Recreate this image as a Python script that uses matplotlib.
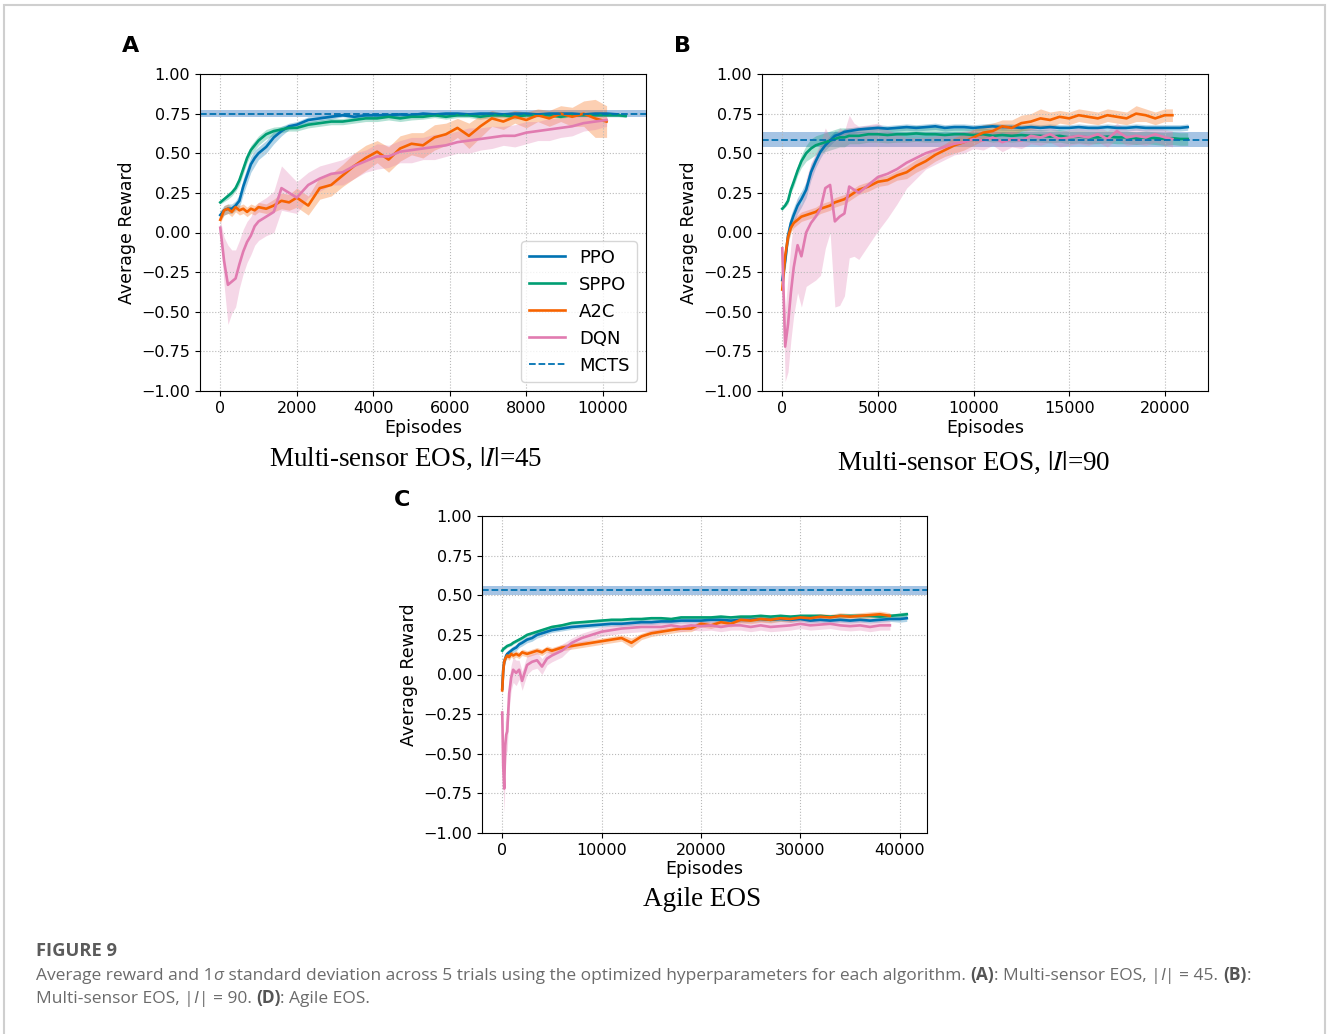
import matplotlib.pyplot as plt
from matplotlib.patches import Rectangle
import numpy as np

plt.rcParams['font.family'] = ['DejaVu Sans']
plt.rcParams['mathtext.fontset'] = 'stix'

W, H = 1327, 1034

# colours
c_ppo = '#0072b2'
c_sppo = '#009e73'
c_a2c = '#f76300'
c_dqn = '#e17bb0'

names = ['PPO', 'SPPO', 'A2C', 'DQN']
colors = [c_ppo, c_sppo, c_a2c, c_dqn]

# ---------------- panel A: Multi-sensor EOS, |I|=45 ----------------
ep_a = [0, 100, 200, 300, 400, 500, 600, 700, 800, 900, 1000,
        1200, 1400, 1600, 1800, 2000,
        2300, 2600, 2900, 3200, 3500, 3800, 4100, 4400, 4700, 5000,
        5300, 5600, 5900, 6200, 6500, 6800, 7100, 7400, 7700, 8000,
        8300, 8600, 8900, 9200, 9500, 9800, 10100, 10400, 10600]

ppo_a = [0.11, 0.14, 0.15, 0.15, 0.17, 0.20, 0.29, 0.36, 0.43, 0.47, 0.50,
         0.54, 0.60, 0.64, 0.67, 0.68,
         0.71, 0.72, 0.73, 0.74, 0.73, 0.74, 0.74, 0.74, 0.745, 0.74,
         0.75, 0.745, 0.75, 0.75, 0.745, 0.75, 0.75, 0.745, 0.75, 0.75,
         0.745, 0.75, 0.75, 0.75, 0.745, 0.75, 0.75, 0.745]
ppo_a_sd = [0.03, 0.03, 0.03, 0.03, 0.03, 0.04, 0.05, 0.05, 0.05, 0.05, 0.04,
            0.04, 0.04, 0.03, 0.02, 0.02,
            0.02, 0.015, 0.015, 0.01, 0.01, 0.01, 0.01, 0.01, 0.01, 0.01,
            0.01, 0.01, 0.01, 0.01, 0.01, 0.01, 0.01, 0.01, 0.01, 0.01,
            0.01, 0.01, 0.01, 0.01, 0.01, 0.01, 0.01, 0.01]

sppo_a = [0.19, 0.21, 0.23, 0.25, 0.28, 0.33, 0.40, 0.47, 0.52, 0.55, 0.58,
          0.62, 0.64, 0.65, 0.66, 0.66,
          0.68, 0.69, 0.70, 0.70, 0.71, 0.72, 0.72, 0.73, 0.72, 0.73,
          0.73, 0.74, 0.73, 0.74, 0.74, 0.73, 0.74, 0.74, 0.73, 0.74,
          0.74, 0.74, 0.73, 0.74, 0.74, 0.74, 0.74, 0.74, 0.735]
sppo_a_sd = [0.01, 0.015, 0.02, 0.02, 0.02, 0.03, 0.03, 0.03, 0.03, 0.03, 0.03,
             0.03, 0.025, 0.02, 0.02, 0.02,
             0.02, 0.02, 0.02, 0.02, 0.02, 0.02, 0.02, 0.02, 0.02, 0.02,
             0.015, 0.015, 0.015, 0.015, 0.015, 0.015, 0.015, 0.015, 0.015, 0.015,
             0.01, 0.01, 0.01, 0.01, 0.01, 0.01, 0.01, 0.01, 0.01]

a2c_a = [0.08, 0.14, 0.15, 0.13, 0.16, 0.14, 0.15, 0.13, 0.15, 0.14, 0.16,
         0.15, 0.17, 0.20, 0.19, 0.22,
         0.17, 0.28, 0.30, 0.36, 0.42, 0.47, 0.51, 0.46, 0.53, 0.56,
         0.55, 0.60, 0.62, 0.66, 0.61, 0.67, 0.72, 0.70, 0.73, 0.71,
         0.74, 0.72, 0.75, 0.73, 0.75, 0.72, 0.70]
a2c_a_sd = [0.02, 0.03, 0.03, 0.03, 0.03, 0.03, 0.03, 0.03, 0.03, 0.03, 0.03,
            0.03, 0.04, 0.05, 0.05, 0.06,
            0.06, 0.07, 0.07, 0.07, 0.08, 0.08, 0.07, 0.08, 0.08, 0.07,
            0.08, 0.08, 0.07, 0.06, 0.08, 0.07, 0.05, 0.05, 0.04, 0.05,
            0.04, 0.05, 0.05, 0.06, 0.08, 0.12, 0.10]

dqn_a = [0.03, -0.18, -0.33, -0.31, -0.29, -0.20, -0.12, -0.06, -0.02, 0.04, 0.07,
         0.10, 0.13, 0.28, 0.25, 0.22,
         0.30, 0.34, 0.37, 0.38, 0.42, 0.45, 0.48, 0.48, 0.51, 0.52,
         0.53, 0.54, 0.55, 0.57, 0.58, 0.59, 0.60, 0.61, 0.61, 0.63,
         0.64, 0.65, 0.66, 0.67, 0.69, 0.70, 0.71]
dqn_a_sd = [0.05, 0.15, 0.25, 0.20, 0.18, 0.15, 0.14, 0.13, 0.12, 0.12, 0.12,
            0.12, 0.13, 0.14, 0.12, 0.10,
            0.08, 0.08, 0.07, 0.08, 0.08, 0.07, 0.08, 0.07, 0.07, 0.08,
            0.07, 0.08, 0.07, 0.07, 0.08, 0.07, 0.07, 0.06, 0.07, 0.07,
            0.06, 0.07, 0.06, 0.06, 0.05, 0.05, 0.04]

mcts_a = 0.75
mcts_a_sd = 0.023

# ---------------- panel B: Multi-sensor EOS, |I|=90 ----------------
ep_b = [0, 150, 300, 450, 600, 800, 1000, 1250, 1500, 1750, 2000,
        2250, 2500, 2750, 3000, 3250, 3500, 3750, 4000,
        4500, 5000, 5500, 6000, 6500, 7000, 7500, 8000, 8500, 9000,
        9500, 10000, 10500, 11000, 11500, 12000, 12500, 13000, 13500, 14000,
        14500, 15000, 15500, 16000, 16500, 17000, 17500, 18000, 18500, 19000,
        19500, 20000, 20400, 20800, 21200]

ppo_b = [-0.30, -0.18, -0.02, 0.06, 0.11, 0.17, 0.21, 0.27, 0.38, 0.45, 0.51,
         0.55, 0.58, 0.61, 0.62, 0.635, 0.64, 0.645, 0.65,
         0.655, 0.66, 0.655, 0.66, 0.665, 0.66, 0.665, 0.67, 0.66, 0.665,
         0.665, 0.66, 0.665, 0.67, 0.665, 0.665, 0.66, 0.665, 0.66, 0.665,
         0.66, 0.66, 0.665, 0.66, 0.66, 0.665, 0.66, 0.66, 0.665, 0.66,
         0.66, 0.66, 0.66, 0.66, 0.665]
ppo_b_sd = [0.06, 0.06, 0.05, 0.05, 0.05, 0.05, 0.05, 0.05, 0.05, 0.04, 0.04,
            0.03, 0.03, 0.03, 0.02, 0.02, 0.02, 0.02, 0.02,
            0.02, 0.02, 0.02, 0.02, 0.02, 0.02, 0.02, 0.02, 0.02, 0.02,
            0.02, 0.02, 0.02, 0.02, 0.02, 0.02, 0.02, 0.02, 0.02, 0.02,
            0.02, 0.02, 0.02, 0.02, 0.02, 0.02, 0.02, 0.02, 0.02, 0.02,
            0.02, 0.02, 0.02, 0.02, 0.02]

sppo_b = [0.15, 0.17, 0.20, 0.27, 0.32, 0.39, 0.45, 0.50, 0.53, 0.55, 0.56,
          0.57, 0.58, 0.59, 0.60, 0.60, 0.61, 0.61, 0.61,
          0.62, 0.62, 0.615, 0.62, 0.62, 0.625, 0.62, 0.62, 0.615, 0.62,
          0.62, 0.615, 0.62, 0.61, 0.615, 0.61, 0.615, 0.61, 0.61, 0.605,
          0.61, 0.60, 0.605, 0.60, 0.60, 0.605, 0.60, 0.60, 0.595, 0.60,
          0.595, 0.59, 0.595, 0.59, 0.59]
sppo_b_sd = [0.01, 0.01, 0.02, 0.02, 0.03, 0.03, 0.04, 0.05, 0.06, 0.06, 0.06,
             0.06, 0.06, 0.06, 0.06, 0.06, 0.05, 0.05, 0.05,
             0.05, 0.05, 0.05, 0.05, 0.05, 0.05, 0.05, 0.05, 0.04, 0.04,
             0.04, 0.04, 0.04, 0.04, 0.04, 0.04, 0.04, 0.04, 0.04, 0.04,
             0.04, 0.04, 0.04, 0.04, 0.04, 0.04, 0.04, 0.04, 0.04, 0.04,
             0.04, 0.04, 0.04, 0.04, 0.04]

a2c_b = [-0.36, -0.15, -0.03, 0.03, 0.06, 0.08, 0.10, 0.11, 0.12, 0.13, 0.15,
         0.16, 0.17, 0.19, 0.20, 0.21, 0.23, 0.25, 0.27,
         0.29, 0.32, 0.33, 0.36, 0.38, 0.42, 0.45, 0.49, 0.52, 0.55,
         0.57, 0.60, 0.63, 0.64, 0.67, 0.66, 0.69, 0.70, 0.72, 0.71,
         0.73, 0.72, 0.74, 0.73, 0.72, 0.74, 0.73, 0.72, 0.75, 0.74,
         0.72, 0.74, 0.74]
a2c_b_sd = [0.04, 0.05, 0.04, 0.03, 0.03, 0.03, 0.03, 0.03, 0.03, 0.03, 0.03,
            0.03, 0.03, 0.03, 0.03, 0.03, 0.03, 0.03, 0.03,
            0.03, 0.03, 0.03, 0.03, 0.04, 0.04, 0.04, 0.04, 0.04, 0.05,
            0.05, 0.05, 0.05, 0.05, 0.04, 0.05, 0.05, 0.05, 0.06, 0.05,
            0.04, 0.04, 0.04, 0.04, 0.04, 0.04, 0.04, 0.04, 0.05, 0.04,
            0.04, 0.04, 0.04]

dqn_b = [-0.10, -0.72, -0.58, -0.38, -0.22, -0.08, -0.15, 0.00, 0.06, 0.10, 0.15,
         0.28, 0.30, 0.07, 0.10, 0.12, 0.29, 0.27, 0.25,
         0.30, 0.35, 0.37, 0.40, 0.44, 0.47, 0.50, 0.52, 0.54, 0.56,
         0.57, 0.59, 0.58, 0.60, 0.57, 0.59, 0.58, 0.61, 0.60, 0.62,
         0.59, 0.60, 0.61, 0.60, 0.62, 0.59, 0.64, 0.60, 0.61, 0.60,
         0.62, 0.60, 0.59]
dqn_b_sd = [0.05, 0.22, 0.30, 0.30, 0.30, 0.30, 0.32, 0.34, 0.38, 0.40, 0.42,
            0.38, 0.30, 0.54, 0.56, 0.52, 0.45, 0.42, 0.42,
            0.38, 0.34, 0.28, 0.22, 0.16, 0.13, 0.10, 0.09, 0.08, 0.07,
            0.07, 0.06, 0.06, 0.05, 0.06, 0.05, 0.05, 0.05, 0.05, 0.05,
            0.05, 0.05, 0.05, 0.05, 0.05, 0.05, 0.05, 0.05, 0.05, 0.05,
            0.05, 0.05, 0.05]

mcts_b = 0.585
mcts_b_sd = 0.048

# ---------------- panel C: Agile EOS ----------------
ep_c = [0, 100, 200, 300, 400, 500, 700, 900, 1100, 1400, 1700, 2000,
        2500, 3000, 3500, 4000, 4500, 5000,
        6000, 7000, 8000, 9000, 10000, 11000, 12000, 13000, 14000, 15000,
        16000, 17000, 18000, 19000, 20000, 21000, 22000, 23000, 24000, 25000,
        26000, 27000, 28000, 29000, 30000, 31000, 32000, 33000, 34000, 35000,
        36000, 37000, 38000, 39000, 40000, 40700]

ppo_c = [-0.09, 0.03, 0.08, 0.10, 0.12, 0.13, 0.14, 0.15, 0.16, 0.17, 0.19, 0.20,
         0.22, 0.23, 0.25, 0.26, 0.27, 0.28,
         0.29, 0.30, 0.305, 0.31, 0.315, 0.32, 0.32, 0.325, 0.33, 0.33,
         0.335, 0.335, 0.34, 0.34, 0.34, 0.345, 0.345, 0.34, 0.345, 0.345,
         0.35, 0.345, 0.35, 0.345, 0.35, 0.34, 0.345, 0.34, 0.345, 0.34,
         0.345, 0.34, 0.345, 0.35, 0.35, 0.355]
ppo_c_sd = [0.04, 0.03, 0.02, 0.02, 0.02, 0.02, 0.02, 0.02, 0.02, 0.02, 0.02, 0.02,
            0.02, 0.02, 0.02, 0.02, 0.015, 0.015,
            0.015, 0.015, 0.015, 0.015, 0.015, 0.015, 0.015, 0.015, 0.015, 0.015,
            0.015, 0.015, 0.015, 0.015, 0.015, 0.015, 0.015, 0.015, 0.015, 0.015,
            0.015, 0.015, 0.015, 0.015, 0.015, 0.015, 0.015, 0.015, 0.015, 0.015,
            0.015, 0.015, 0.015, 0.015, 0.02, 0.02]

sppo_c = [0.15, 0.16, 0.165, 0.17, 0.175, 0.18, 0.185, 0.19, 0.20, 0.21, 0.22, 0.23,
          0.25, 0.26, 0.27, 0.28, 0.29, 0.30,
          0.31, 0.325, 0.33, 0.335, 0.34, 0.345, 0.345, 0.35, 0.35, 0.355,
          0.355, 0.35, 0.36, 0.36, 0.36, 0.36, 0.365, 0.36, 0.365, 0.365,
          0.37, 0.365, 0.37, 0.365, 0.37, 0.37, 0.37, 0.365, 0.37, 0.37,
          0.37, 0.37, 0.365, 0.37, 0.375, 0.38]
sppo_c_sd = [0.01, 0.01, 0.01, 0.01, 0.01, 0.01, 0.01, 0.01, 0.01, 0.01, 0.01, 0.01,
             0.01, 0.01, 0.01, 0.01, 0.01, 0.01,
             0.01, 0.01, 0.01, 0.01, 0.01, 0.01, 0.01, 0.01, 0.01, 0.01,
             0.01, 0.01, 0.01, 0.01, 0.01, 0.01, 0.01, 0.01, 0.01, 0.01,
             0.01, 0.01, 0.01, 0.01, 0.01, 0.01, 0.01, 0.01, 0.01, 0.01,
             0.01, 0.01, 0.01, 0.01, 0.015, 0.015]

a2c_c = [-0.10, 0.02, 0.08, 0.10, 0.11, 0.12, 0.11, 0.13, 0.12, 0.13, 0.12, 0.14,
         0.13, 0.14, 0.15, 0.14, 0.16, 0.15,
         0.17, 0.18, 0.19, 0.20, 0.21, 0.22, 0.23, 0.20, 0.24, 0.26,
         0.27, 0.28, 0.29, 0.29, 0.32, 0.31, 0.33, 0.32, 0.345, 0.34,
         0.35, 0.345, 0.355, 0.35, 0.36, 0.355, 0.365, 0.36, 0.37, 0.365,
         0.37, 0.375, 0.38, 0.37]
a2c_c_sd = [0.03, 0.03, 0.02, 0.02, 0.02, 0.02, 0.02, 0.02, 0.02, 0.02, 0.02, 0.02,
            0.02, 0.02, 0.02, 0.02, 0.02, 0.02,
            0.02, 0.02, 0.02, 0.02, 0.02, 0.02, 0.02, 0.03, 0.02, 0.02,
            0.02, 0.02, 0.02, 0.02, 0.02, 0.02, 0.02, 0.02, 0.02, 0.02,
            0.02, 0.02, 0.02, 0.02, 0.02, 0.02, 0.02, 0.02, 0.02, 0.02,
            0.02, 0.02, 0.02, 0.02]

dqn_c = [-0.24, -0.58, -0.72, -0.45, -0.38, -0.36, -0.12, -0.02, 0.03, 0.01, 0.03, -0.04,
         0.06, 0.08, 0.09, 0.05, 0.10, 0.12,
         0.15, 0.20, 0.23, 0.25, 0.27, 0.28, 0.29, 0.295, 0.30, 0.30,
         0.30, 0.31, 0.30, 0.31, 0.305, 0.31, 0.30, 0.31, 0.31, 0.30,
         0.31, 0.30, 0.305, 0.31, 0.32, 0.31, 0.315, 0.32, 0.31, 0.305,
         0.31, 0.30, 0.31, 0.31]
dqn_c_sd = [0.10, 0.15, 0.15, 0.15, 0.12, 0.12, 0.10, 0.08, 0.08, 0.08, 0.06, 0.06,
            0.06, 0.05, 0.05, 0.05, 0.04, 0.04,
            0.04, 0.03, 0.03, 0.03, 0.03, 0.03, 0.03, 0.03, 0.03, 0.03,
            0.03, 0.03, 0.03, 0.03, 0.03, 0.03, 0.03, 0.03, 0.03, 0.03,
            0.03, 0.03, 0.03, 0.03, 0.03, 0.03, 0.03, 0.03, 0.03, 0.03,
            0.03, 0.03, 0.03, 0.03]

mcts_c = 0.53
mcts_c_sd = 0.027


def px_axes(fig, l, t, r, b):
    return fig.add_axes([l / W, 1 - b / H, (r - l) / W, (b - t) / H])


def draw_panel(ax, ep, means, sds, mcts, mcts_sd, xticks):
    for name, y, s, c in zip(names, means, sds, colors):
        x = np.array(ep[:len(y)])
        y = np.array(y)
        s = np.array(s)
        ax.fill_between(x, y - s, y + s, color=c, alpha=0.3, lw=0)
        ax.plot(x, y, color=c, lw=1.9, label=name)
    ax.axhspan(mcts - mcts_sd, mcts + mcts_sd, color='#3b7dc4', alpha=0.45, lw=0, zorder=0.5)
    ax.axhline(mcts, color=c_ppo, ls='--', lw=1.3, label='MCTS')
    ax.set_ylim(-1, 1)
    ax.set_yticks([-1, -0.75, -0.5, -0.25, 0, 0.25, 0.5, 0.75, 1])
    ax.set_xticks(xticks)
    ax.tick_params(labelsize=11.5)
    ax.grid(True, ls=':', color='#b8b8b8', lw=0.8)
    ax.set_xlabel('Episodes', fontsize=12.5, labelpad=2)
    ax.set_ylabel('Average Reward', fontsize=12.5)


fig = plt.figure(figsize=(W / 100, H / 100), dpi=100)

# outer frame
fig.patches.append(Rectangle((4 / W, -0.02), 1321 / W, 1 - 5 / H + 0.02,
                             transform=fig.transFigure, fill=False,
                             edgecolor='#cfcfcf', lw=1.5))

ax_a = px_axes(fig, 200, 74, 646, 391)
draw_panel(ax_a, ep_a, [ppo_a, sppo_a, a2c_a, dqn_a],
           [ppo_a_sd, sppo_a_sd, a2c_a_sd, dqn_a_sd], mcts_a, mcts_a_sd,
           [0, 2000, 4000, 6000, 8000, 10000])
ax_a.legend(loc='lower right', fontsize=13)

ax_b = px_axes(fig, 762, 74, 1208, 391)
draw_panel(ax_b, ep_b, [ppo_b, sppo_b, a2c_b, dqn_b],
           [ppo_b_sd, sppo_b_sd, a2c_b_sd, dqn_b_sd], mcts_b, mcts_b_sd,
           [0, 5000, 10000, 15000, 20000])

ax_c = px_axes(fig, 482, 516, 927, 833)
draw_panel(ax_c, ep_c, [ppo_c, sppo_c, a2c_c, dqn_c],
           [ppo_c_sd, sppo_c_sd, a2c_c_sd, dqn_c_sd], mcts_c, mcts_c_sd,
           [0, 10000, 20000, 30000, 40000])

# panel letters
for lab, x, y in [('A', 131, 46), ('B', 683, 46), ('C', 402, 500)]:
    fig.text(x / W, 1 - y / H, lab, fontsize=16, fontweight='bold',
             ha='center', va='center')

# serif subtitles
for txt, x, y in [(r'Multi-sensor EOS, $|I|$=45', 406, 459),
                  (r'Multi-sensor EOS, $|I|$=90', 974, 463),
                  ('Agile EOS', 702, 900)]:
    fig.text(x / W, 1 - y / H, txt, fontsize=19.5, family='Liberation Serif',
             ha='center', va='center')

# caption
cap_font = ['Open Sans', 'DejaVu Sans']
renderer = fig.canvas.get_renderer()


def text_width(s, **kw):
    t = fig.text(0, 0, '|' + s + '|', **kw)
    t2 = fig.text(0, 0, '||', **kw)
    w = t.get_window_extent(renderer).width - t2.get_window_extent(renderer).width
    t.remove()
    t2.remove()
    return w


def style_kw(style, size):
    kw = dict(fontsize=size, family=cap_font, color='#6b6b6b')
    if style == 'b':
        kw.update(fontweight='bold', color='#555555')
    elif style == 'i':
        kw.update(style='italic')
    return kw


def caption_line(x_px, y_px, parts, size):
    for s, style in parts:
        kw = style_kw(style, size)
        fig.text(x_px / W, 1 - y_px / H, s, va='baseline', **kw)
        x_px += text_width(s, **kw)


line1 = [('Average reward and 1', 'n'), ('σ', 'i'),
         (' standard deviation across 5 trials using the optimized hyperparameters for each algorithm. ', 'n'),
         ('(A)', 'b'), (': Multi-sensor EOS, |', 'n'), ('I', 'i'), ('| = 45. ', 'n'),
         ('(B)', 'b'), (':', 'n')]
line2 = [('Multi-sensor EOS, |', 'n'), ('I', 'i'), ('| = 90. ', 'n'),
         ('(D)', 'b'), (': Agile EOS.', 'n')]

# fit caption size to the reference line length
base = 11.0
w1 = sum(text_width(s, **style_kw(st, base)) for s, st in line1)
cap_size = base * 1214 / w1

fw = text_width('FIGURE 9', fontsize=12, family=cap_font, fontweight='bold')
fig_size = 12 * 81 / fw
fig.text(36 / W, 1 - 956 / H, 'FIGURE 9', fontsize=fig_size, family=cap_font,
         fontweight='bold', color='#5b5b5b', va='baseline')

caption_line(36, 980, line1, cap_size)
caption_line(36, 1003, line2, cap_size)

fig.savefig('out.png', dpi=100)
